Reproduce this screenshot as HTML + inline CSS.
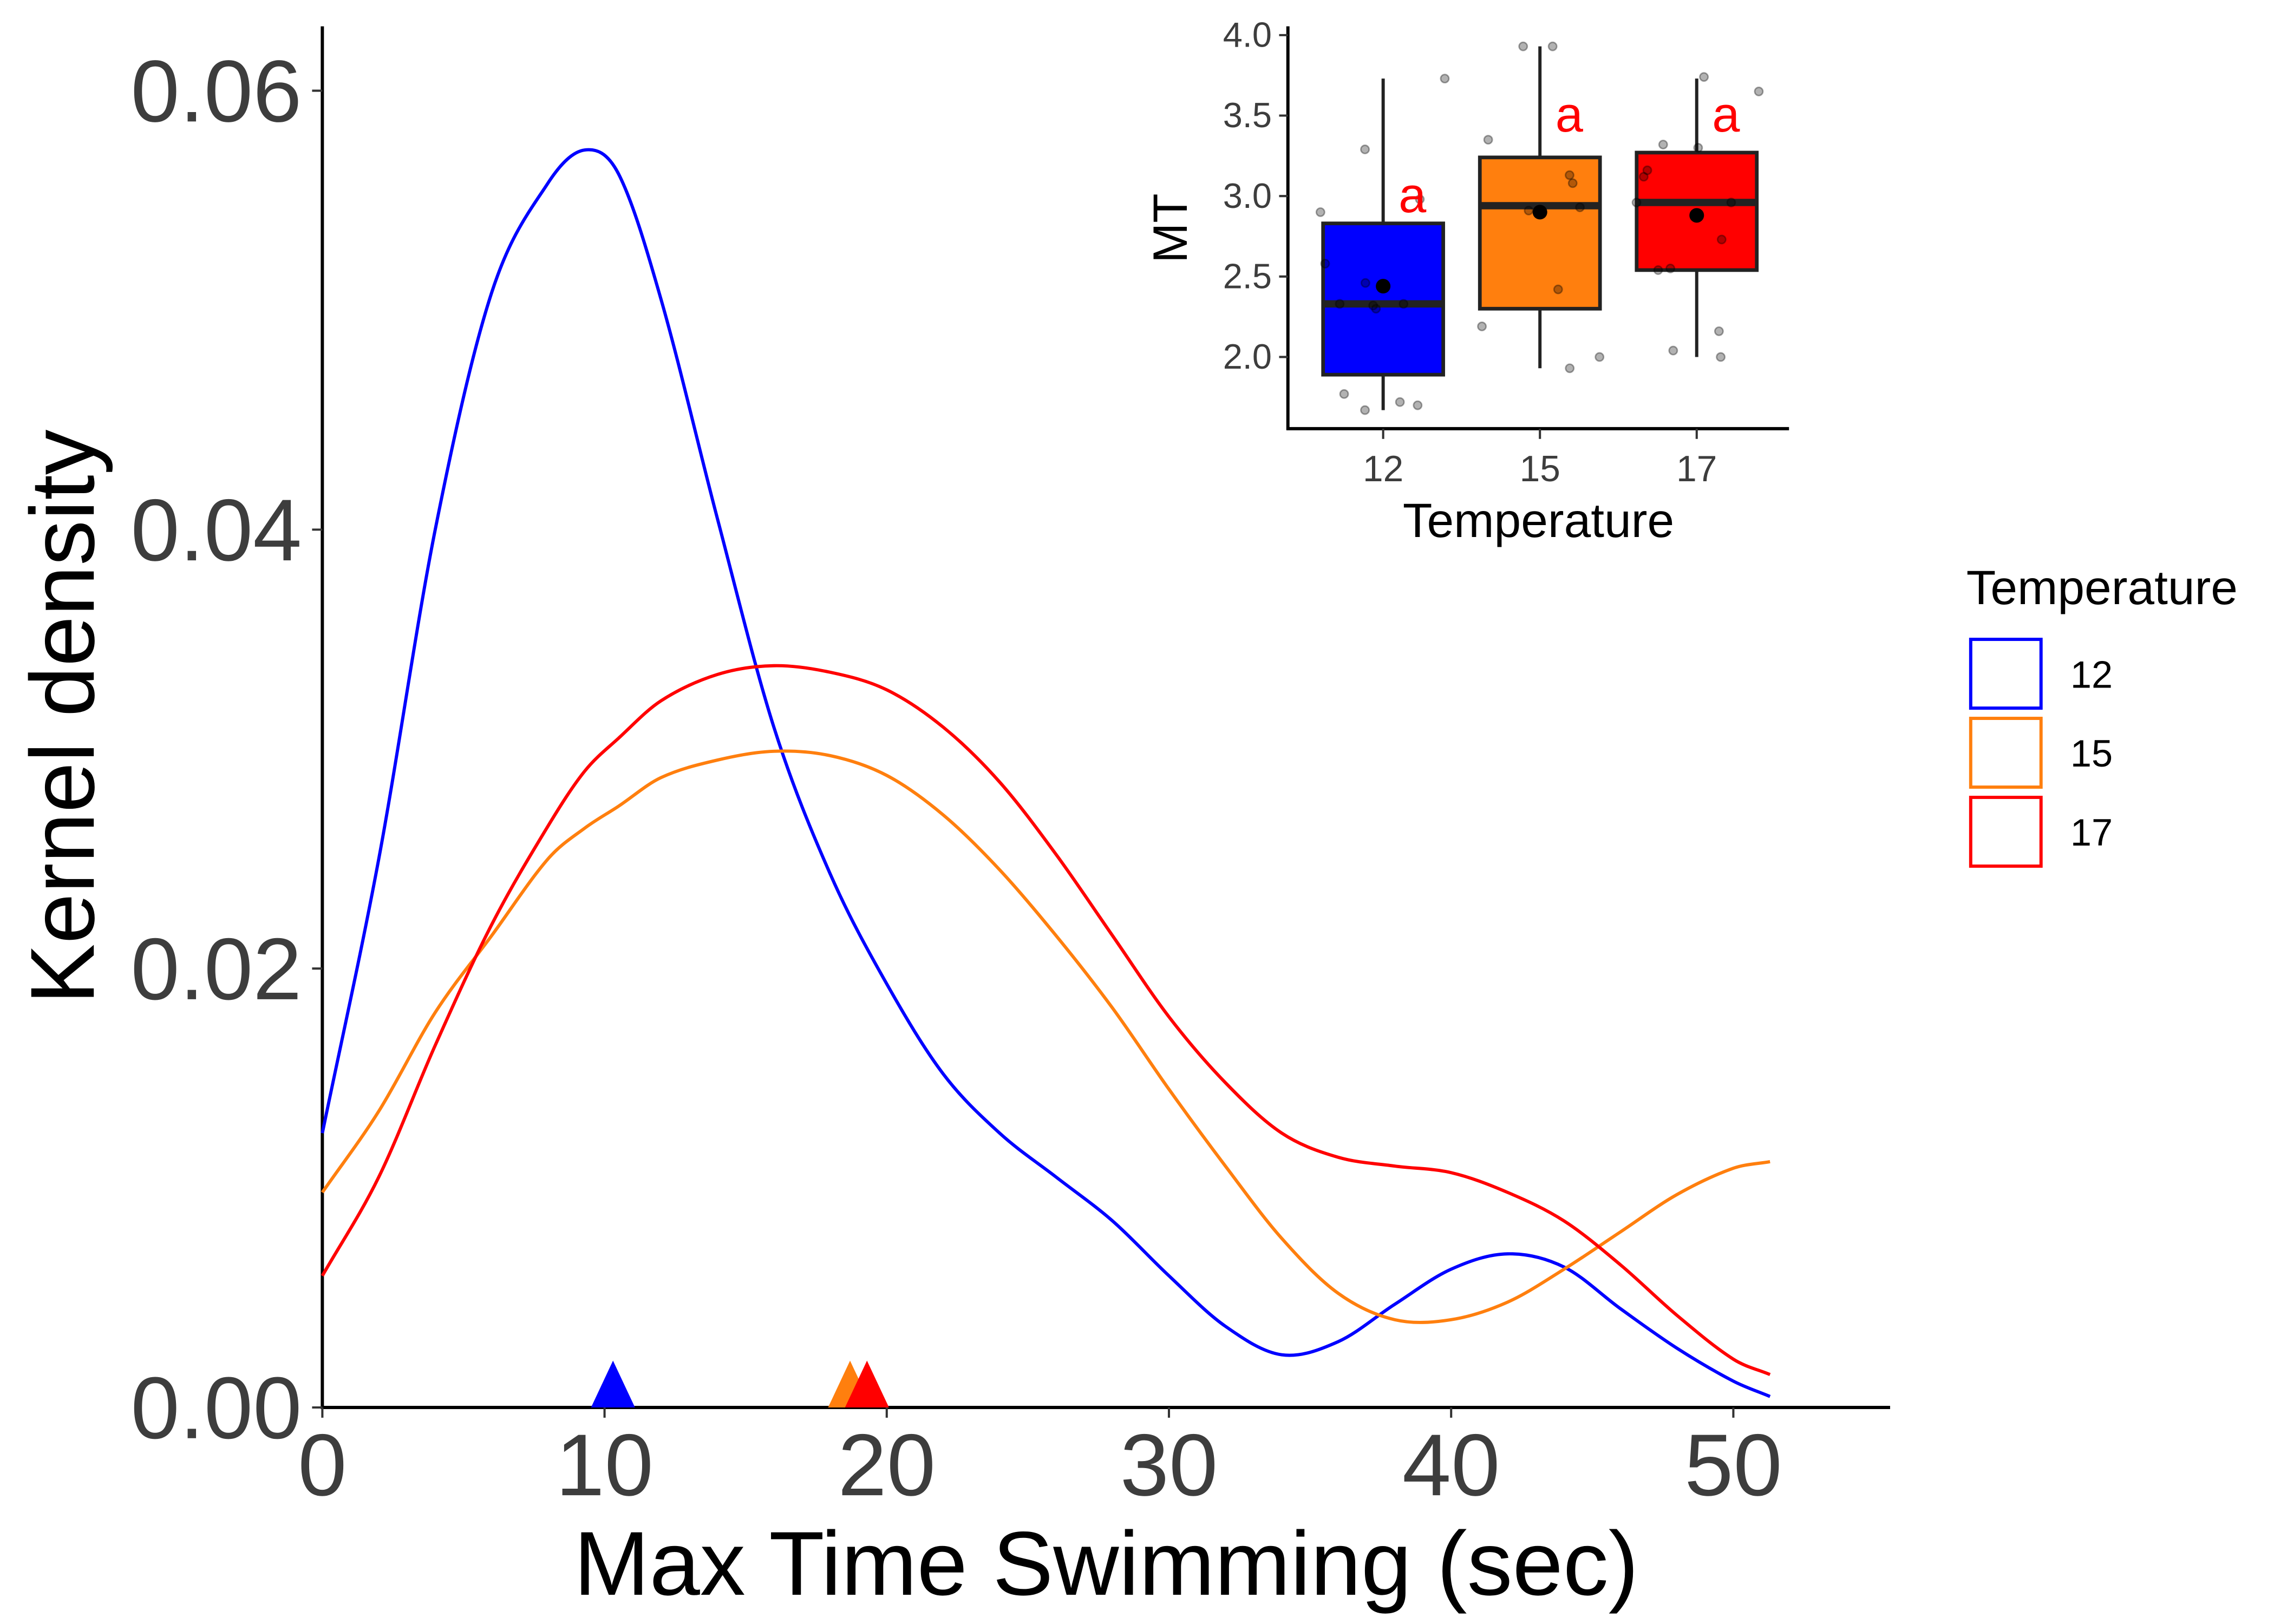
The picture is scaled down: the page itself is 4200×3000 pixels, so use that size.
<!DOCTYPE html>
<html><head><meta charset="utf-8"><style>
html,body{margin:0;padding:0;background:#fff;}
svg{display:block;font-family:"Liberation Sans",sans-serif;}
</style></head><body>
<svg id="chart" width="4200" height="3000" viewBox="0 0 1552 1110" preserveAspectRatio="none" xmlns="http://www.w3.org/2000/svg">
<rect width="1552" height="1110" fill="#fff"/>
<g id="main"></g>
<g id="inset"></g>
<g id="legend"></g>
</svg>
<script>
const groups=['12','15','17'];
const colors=['#0000ff','#ff7f0e','#ff0000'];
const xVals=[0,2,4,6,8,9.3,10.5,12,14,16,18,20,22,24,26,28,30,32,34,36,38,40,42,44,46,48,50,51.3];
const blueDens=[0.0125,0.025,0.04,0.0508,0.0558,0.0573,0.0562,0.0505,0.0405,0.031,0.0243,0.0193,0.0152,0.0125,0.0105,0.0085,0.006,0.0037,0.0024,0.003,0.0047,0.0063,0.007,0.0064,0.0045,0.0027,0.0012,0.0005];
const orangeDens=[0.0098,0.0135,0.018,0.0215,0.025,0.0264,0.0274,0.0287,0.0295,0.0299,0.0297,0.0288,0.027,0.0245,0.0215,0.0182,0.0145,0.011,0.0077,0.0052,0.004,0.004,0.0048,0.0063,0.008,0.0097,0.0109,0.0112];
const redDens=[0.006,0.0105,0.0165,0.022,0.0265,0.029,0.0305,0.0322,0.0334,0.0338,0.0335,0.0327,0.031,0.0285,0.0252,0.0215,0.0178,0.0148,0.0125,0.0114,0.011,0.0107,0.0098,0.0085,0.0065,0.0042,0.0022,0.0015];
const groupMeans=[10.3,18.7,19.3];
const xTicks=[0,10,20,30,40,50];
const yTicks=[0,0.02,0.04,0.06];
const yTickLabels=['0.00','0.02','0.04','0.06'];
const q1=[1.89,2.30,2.54], med=[2.33,2.94,2.96], q3=[2.83,3.24,3.27];
const whLo=[1.67,1.93,2.00], whHi=[3.73,3.93,3.73], meanMT=[2.44,2.90,2.88];
const pts12=[2.9,2.58,3.29,2.46,2.33,2.32,2.30,2.33,2.98,3.73,1.77,1.67,1.72,1.70];
const jit12=[-0.40,-0.37,-0.116,-0.113,-0.277,-0.064,-0.046,0.13,0.234,0.393,-0.249,-0.116,0.107,0.22];
const pts15=[3.93,3.93,3.35,3.13,3.08,2.91,2.93,2.42,2.19,1.93,2.0];
const jit15=[-0.107,0.081,-0.33,0.189,0.209,-0.072,0.255,0.116,-0.37,0.19,0.38];
const pts17=[3.74,3.65,3.32,3.30,3.16,3.12,2.96,2.96,2.73,2.54,2.55,2.16,2.04,2.00];
const jit17=[0.046,0.396,-0.214,0.009,-0.315,-0.338,-0.384,0.22,0.159,-0.246,-0.168,0.142,-0.15,0.153];
const insetYTicks=[2.0,2.5,3.0,3.5,4.0];

const NS='http://www.w3.org/2000/svg';
function mk(parent,tag,attrs,text){const e=document.createElementNS(NS,tag);for(const k in attrs)e.setAttribute(k,attrs[k]);if(text!==undefined)e.textContent=text;parent.appendChild(e);return e;}
const X=v=>220+v*19.26, Y=v=>962-v*15000;
const main=document.getElementById('main');
let e=mk(main,'line',{x1:220,y1:18,x2:220,y2:963,stroke:'#000','stroke-width':2.2});


e=mk(main,'line',{x1:219,y1:962,x2:1290,y2:962,stroke:'#000','stroke-width':2.2});


xTicks.forEach(t=>{
 mk(main,'line',{x1:X(t),y1:962,x2:X(t),y2:969,stroke:'#333','stroke-width':1.5});
 e=mk(main,'text',{x:X(t),y:1022,'text-anchor':'middle','font-size':60,fill:'#3d3d3d'},String(t));
 
 
});
yTicks.forEach((t,i)=>{
 mk(main,'line',{x1:213,y1:Y(t),x2:220,y2:Y(t),stroke:'#333','stroke-width':1.5});
 e=mk(main,'text',{x:206,y:Y(t)+21,'text-anchor':'end','font-size':60,fill:'#3d3d3d'},yTickLabels[i]);
 
 
});
e=mk(main,'text',{x:755,y:1090,'text-anchor':'middle','font-size':62,fill:'#000'},'Max Time Swimming (sec)');


e=mk(main,'text',{x:0,y:0,'text-anchor':'middle','font-size':62,fill:'#000',transform:'translate(64,490) rotate(-90)'},'Kernel density');


const series=[blueDens,orangeDens,redDens];
function smooth(pts){
 const n=pts.length,m=[];
 for(let i=0;i<n;i++){const a=pts[Math.max(i-1,0)],b=pts[Math.min(i+1,n-1)];m.push((b[1]-a[1])/(b[0]-a[0]));}
 let d='M'+pts[0][0]+','+pts[0][1];
 for(let i=0;i<n-1;i++){const p1=pts[i],p2=pts[i+1],h=(p2[0]-p1[0])/3;
  d+=` C${p1[0]+h},${p1[1]+m[i]*h} ${p2[0]-h},${p2[1]-m[i+1]*h} ${p2[0]},${p2[1]}`;}
 return d;}
series.forEach((s,gi)=>{
 const pts=xVals.map((x,i)=>[X(x),Y(s[i])]);
 e=mk(main,'path',{d:smooth(pts),fill:'none',stroke:colors[gi],'stroke-width':2.2});
 
 
});
groupMeans.forEach((m,gi)=>{
 const cx=X(m);
 e=mk(main,'polygon',{points:`${cx-15},962 ${cx+15},962 ${cx},930`,fill:colors[gi]});
 
 
});
const ins=document.getElementById('inset');
const IX=c=>944+c*107, IY=v=>244-(v-2)*110;
e=mk(ins,'line',{x1:879,y1:18,x2:879,y2:294,stroke:'#000','stroke-width':2.2});


e=mk(ins,'line',{x1:878,y1:293,x2:1221,y2:293,stroke:'#000','stroke-width':2.2});


insetYTicks.forEach(t=>{
 mk(ins,'line',{x1:873,y1:IY(t),x2:879,y2:IY(t),stroke:'#333','stroke-width':1.5});
 e=mk(ins,'text',{x:868,y:IY(t)+8,'text-anchor':'end','font-size':24,fill:'#3d3d3d'},t.toFixed(1));
 
 
});
groups.forEach((g,gi)=>{
 const cx=IX(gi);
 mk(ins,'line',{x1:cx,y1:293,x2:cx,y2:300,stroke:'#333','stroke-width':1.5});
 e=mk(ins,'text',{x:cx,y:329,'text-anchor':'middle','font-size':25,fill:'#3d3d3d'},g);
 
 
 mk(ins,'line',{x1:cx,y1:IY(whLo[gi]),x2:cx,y2:IY(whHi[gi]),stroke:'#222','stroke-width':2.2});
 e=mk(ins,'rect',{x:cx-41,y:IY(q3[gi]),width:82,height:IY(q1[gi])-IY(q3[gi]),fill:colors[gi],stroke:'#222','stroke-width':2.5});
 
 
 mk(ins,'line',{x1:cx-41,y1:IY(med[gi]),x2:cx+41,y2:IY(med[gi]),stroke:'#222','stroke-width':5});
});
[[pts12,jit12],[pts15,jit15],[pts17,jit17]].forEach(([p,j],gi)=>{
 p.forEach((v,i)=>{
  e=mk(ins,'circle',{cx:IX(gi+j[i]),cy:IY(v),r:2.8,fill:'rgba(0,0,0,0.3)',stroke:'rgba(0,0,0,0.35)','stroke-width':1});
  
  
 });
});
meanMT.forEach((m,gi)=>{
 e=mk(ins,'circle',{cx:IX(gi),cy:IY(m),r:5,fill:'#000'});
 
 
});
const letterY=[3.0,3.5,3.5];
letterY.forEach((v,gi)=>{
 e=mk(ins,'text',{x:IX(gi)+20,y:IY(v)+11,'text-anchor':'middle','font-size':34,fill:'#ff0000'},'a');
 
 
});
e=mk(ins,'text',{x:1050,y:367,'text-anchor':'middle','font-size':33,fill:'#000'},'Temperature');


e=mk(ins,'text',{x:0,y:0,'text-anchor':'middle','font-size':33,fill:'#000',transform:'translate(810,156) rotate(-90)'},'MT');


const lg=document.getElementById('legend');
e=mk(lg,'text',{x:1342,y:413,'font-size':33,fill:'#000'},'Temperature');


groups.forEach((g,gi)=>{
 const y=437+gi*54;
 e=mk(lg,'rect',{x:1345,y:y,width:48,height:47,fill:'#fff',stroke:colors[gi],'stroke-width':2.2});
 
 
 e=mk(lg,'text',{x:1413,y:y+33,'font-size':26,fill:'#000'},g);
 
 
});
</script>
</body></html>
